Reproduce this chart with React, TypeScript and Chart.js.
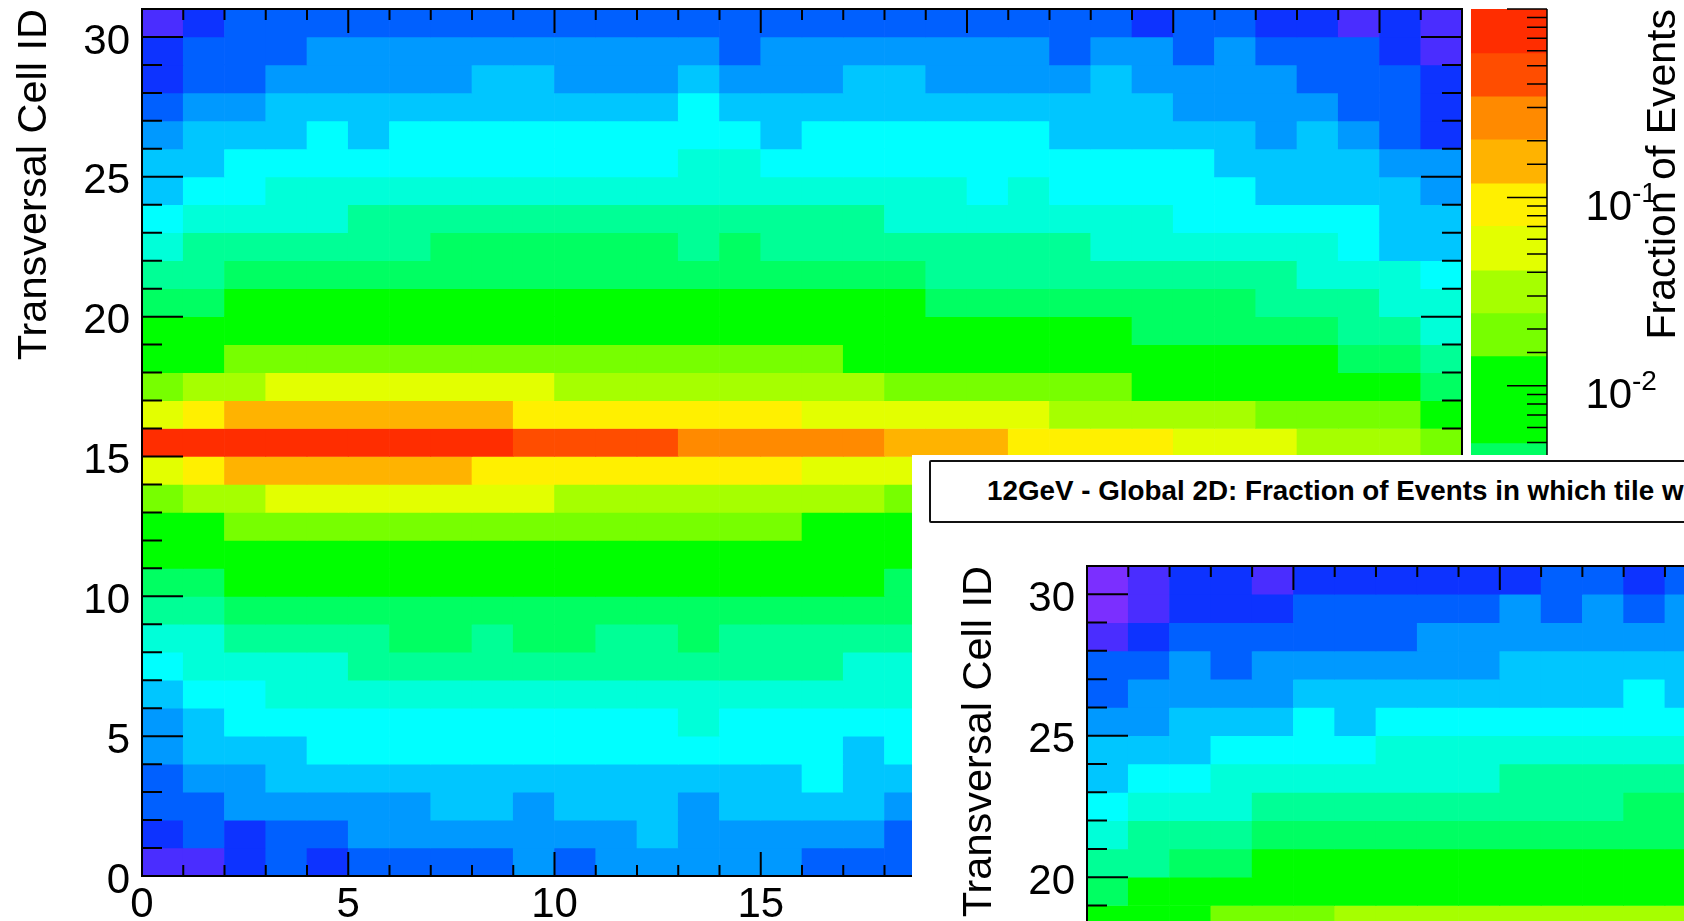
import React, { useEffect, useRef } from "react";
import { Chart, registerables } from "chart.js";

Chart.register(...registerables);

const FONT = '"Liberation Sans", Arial, sans-serif';

// Colour of each contour level, lowest (a) to highest (s)
const levelColors: Record<string, string> = {
  a: "#7b2fff", b: "#4a2dff", c: "#0d33ff", d: "#0060ff", e: "#0099ff",
  f: "#00c6ff", g: "#00ffff", h: "#00ffd9", i: "#00ff96", j: "#00ff62",
  k: "#00ff00", l: "#77ff00", m: "#a6ff00", n: "#e3ff00", o: "#fff000",
  p: "#ffb300", q: "#ff8a00", r: "#ff4d00", s: "#ff2d00",
};

// Upper histogram: contour level of every cell; first line is Cell ID 30, columns 0..31 (spaces only group by 5)
const upperRows = [
  "bcddd ddddd ddddd ddddd ddddc ddccb cb",
  "cddde eeeee eeeed eeeee eedee deddd cb",
  "cddee eeeff eeefe eeffe eeefe eeedd dc",
  "deeff fffff fffgf fffff fffff eeeed dc",
  "efffg fgggg ggggg fgggg ggfff ffefe dc",
  "ffggg ggggg ggghh ggggg ggggg gffff ee",
  "fgghh hhhhh hhhhh hhhhh ghggg ggfff fe",
  "ghhhh iiiii iiiii iiihh hhhhh ggggg ff",
  "hiiii iijjj jjjij iiiii iiihh hhhhg ff",
  "iijjj jjjjj jjjjj jjjji iiiii iiihh hg",
  "jjkkk kkkkk kkkkk kkkkj jjjjj jjiii hh",
  "kkkkk kkkkk kkkkk kkkkk kkkkj jjjji ih",
  "kklll lllll lllll llkkk kkkkk kkkkj ji",
  "lmmnn nnnnn mmmmm mmmll llllk kkkkk kj",
  "noppp ppppo ooooo onnnn nnmmm mmlll lk",
  "sssss ssssr rrrqq qqqpp poooo nnnmm ml",
  "noppp pppoo ooooo onnnn nnmmm mmlll lk",
  "lmmnn nnnnn mmmmm mmmll llllk kkkkk kj",
  "kklll lllll lllll lkkkk kkkkk kkkkj ji",
  "kkkkk kkkkk kkkkk kkkkk kkkkj jjjji ih",
  "jjkkk kkkkk kkkkk kkkjj jjjjj jjiii hh",
  "iijjj jjjjj jjjjj jjjji iiiii iiihh hg",
  "hhiii ijjij jiiji iiiii iiihh hhhhg ff",
  "ghhhh iiiii iiiii iihhh hhhhg ggggf ff",
  "fgghh hhhhh hhhhh hhhhh ghggg ggfff fe",
  "efggg ggggg ggghg ggggg ggggg gffff ee",
  "efffg ggggg ggggg ggfgg ggfff ffefe dc",
  "deeff fffff fffff fgfff fffff eeeed dc",
  "ddeee eeffe fffef fffee eeefe eeedd dc",
  "cdcdd eeeee eefee eeede eedee deddd cb",
  "bbcdc dddde deeee edddd ddddc ddccb cb",
];

// Lower histogram: only what the picture shows: Cell IDs 30..18, columns 0..14
const lowerRows = [
  "abccb ccccc cddcd",
  "abccc ddddd edede",
  "bcddd dddee eeeee",
  "ddede eeeee fffff",
  "deeee fffff fffgf",
  "eefff gfggg ggggg",
  "fffgg gghhh hhhhh",
  "fgghh hhhhh iiiii",
  "ghhhi iiiii iiijj",
  "hiiij jjjjj jjjjj",
  "iijjk kkkkk kkkkk",
  "jkkkk kkkkk kkkkk",
  "kkkll lmmmm mmmmm",
];

const columnCount = 32;
const rowCount = 31;
const topCellId = 30;
const majorEvery = 5;

// Colour bar: level edges (fraction of events) and the level between each pair of edges
const colorEdges = [1, 0.584, 0.345, 0.204, 0.119, 0.0707, 0.0411, 0.0244, 0.0144, 0.00497, 0.00293];
const colorLevels = ["s", "r", "q", "p", "o", "n", "m", "l", "k", "j"];
const colorAxisMin = 2.5e-5;
const colorAxisMax = 1;
const colorLabels = [
  { value: 0.1, exponent: "-1" },
  { value: 0.01, exponent: "-2" },
];

const yTitle = "Transversal Cell ID";
const colorTitle = "Fraction of Events";
const panelTitle = "12GeV - Global 2D: Fraction of Events in which tile w";

const frameAndTicks = {
  id: "frameAndTicks",
  afterDatasetsDraw(chart: any) {
    const { ctx, chartArea: a, scales } = chart;
    ctx.save();
    ctx.strokeStyle = "#000";
    ctx.lineWidth = 2;
    ctx.beginPath();
    for (const t of scales.x.ticks) {
      if (t.value <= 0 || t.value >= scales.x.max) continue;
      const px = scales.x.getPixelForValue(t.value);
      const len = t.value % majorEvery === 0 ? 24 : 11;
      ctx.moveTo(px, a.top);
      ctx.lineTo(px, a.top + len);
      ctx.moveTo(px, a.bottom);
      ctx.lineTo(px, a.bottom - len);
    }
    for (const t of scales.y.ticks) {
      if (t.value <= 0 || t.value >= scales.y.max) continue;
      const py = scales.y.getPixelForValue(t.value);
      const len = t.value % majorEvery === 0 ? 41 : 20;
      ctx.moveTo(a.left, py);
      ctx.lineTo(a.left + len, py);
      ctx.moveTo(a.right, py);
      ctx.lineTo(a.right - len, py);
    }
    ctx.stroke();
    ctx.strokeRect(a.left, a.top, a.right - a.left, a.bottom - a.top);
    ctx.restore();
  },
};

const colorBarDecor = {
  id: "colorBarDecor",
  afterDatasetsDraw(chart: any) {
    const { ctx, chartArea: a, scales } = chart;
    const y = scales.y;
    ctx.save();
    ctx.strokeStyle = "#000";
    ctx.lineWidth = 1.5;
    ctx.beginPath();
    ctx.moveTo(a.right, a.top);
    ctx.lineTo(a.right, a.bottom);
    for (const t of y.ticks) {
      const py = y.getPixelForValue(t.value);
      const isDecade = Math.abs(Math.log10(t.value) - Math.round(Math.log10(t.value))) < 1e-6;
      ctx.moveTo(a.right, py);
      ctx.lineTo(a.right - (isDecade ? 40 : 20), py);
    }
    ctx.stroke();
    ctx.fillStyle = "#000";
    ctx.textBaseline = "alphabetic";
    for (const l of colorLabels) {
      const py = y.getPixelForValue(l.value);
      ctx.textAlign = "left";
      ctx.font = `42px ${FONT}`;
      ctx.fillText("10", a.right + 38.5, py + 22.5);
      ctx.font = `28px ${FONT}`;
      ctx.fillText(l.exponent, a.right + 85, py + 4.5);
    }
    ctx.translate(a.right + 128, a.top);
    ctx.rotate(-Math.PI / 2);
    ctx.textAlign = "right";
    ctx.font = `41px ${FONT}`;
    ctx.fillText(colorTitle, 0, 0);
    ctx.restore();
  },
};

function heatOptions(padding: any, yWidth: number, xHeight: number, titleOffset: number) {
  return {
    responsive: false,
    animation: false as const,
    devicePixelRatio: 1,
    events: [],
    layout: { padding },
    plugins: { legend: { display: false }, tooltip: { enabled: false }, title: { display: false } },
    scales: {
      x: {
        type: "linear" as const,
        min: 0,
        max: columnCount,
        offset: false,
        grid: { display: false, drawTicks: false },
        border: { display: false },
        ticks: {
          stepSize: 1,
          autoSkip: false,
          maxRotation: 0,
          padding: 4,
          color: "#000",
          font: { family: FONT, size: 42 },
          callback: (v: any) => (Number(v) % majorEvery === 0 ? String(v) : ""),
        },
        afterFit: (s: any) => {
          s.height = xHeight;
          s.paddingLeft = 0;
          s.paddingRight = 0;
        },
      },
      y: {
        type: "linear" as const,
        min: 0,
        max: rowCount,
        grid: { display: false, drawTicks: false },
        border: { display: false },
        title: {
          display: true,
          text: yTitle,
          align: "end" as const,
          color: "#000",
          font: { family: FONT, size: 41.5, lineHeight: 1 },
          padding: { top: titleOffset, bottom: 0 },
        },
        ticks: {
          stepSize: 1,
          autoSkip: false,
          padding: 12,
          labelOffset: 5,
          color: "#000",
          font: { family: FONT, size: 42 },
          callback: (v: any) => (Number(v) % majorEvery === 0 ? String(v) : ""),
        },
        afterFit: (s: any) => {
          s.width = yWidth;
          s.paddingTop = 0;
          s.paddingBottom = 0;
        },
      },
    },
  };
}

function heatDatasets(rows: string[]) {
  return rows.map((line, i) => {
    const cells = line.replace(/ /g, "").split("");
    const cellId = topCellId - i;
    return {
      label: `Cell ID ${cellId}`,
      data: cells.map((_, c) => ({ x: c + 0.5, y: [cellId, cellId + 1] })),
      backgroundColor: cells.map((k) => levelColors[k]),
      borderWidth: 0,
      barPercentage: 1,
      categoryPercentage: 1,
      grouped: false,
    };
  });
}

export default function App() {
  const mainRef = useRef<HTMLCanvasElement>(null);
  const barRef = useRef<HTMLCanvasElement>(null);
  const lowerRef = useRef<HTMLCanvasElement>(null);

  useEffect(() => {
    const main = new Chart(mainRef.current!, {
      type: "bar",
      data: { datasets: heatDatasets(upperRows) as any },
      options: heatOptions({ left: 0, top: 9, right: 222, bottom: 0 }, 142, 45, 14) as any,
      plugins: [frameAndTicks],
    });
    const bar = new Chart(barRef.current!, {
      type: "bar",
      data: {
        labels: [colorTitle],
        datasets: colorLevels.map((k, i) => ({
          label: k,
          data: [[colorEdges[i + 1], colorEdges[i]]],
          backgroundColor: levelColors[k],
          borderWidth: 0,
          barPercentage: 1,
          categoryPercentage: 1,
          grouped: false,
        })) as any,
      },
      options: {
        responsive: false,
        animation: false,
        devicePixelRatio: 1,
        events: [],
        layout: { padding: { left: 7, right: 137, top: 9, bottom: 45 } },
        plugins: { legend: { display: false }, tooltip: { enabled: false } },
        scales: {
          x: { display: false },
          y: {
            type: "logarithmic",
            position: "right",
            min: colorAxisMin,
            max: colorAxisMax,
            grid: { display: false, drawTicks: false },
            border: { display: false },
            ticks: { display: false, autoSkip: false },
            afterFit: (s: any) => { s.width = 0; },
          },
        },
      } as any,
      plugins: [colorBarDecor],
    });
    const lower = new Chart(lowerRef.current!, {
      type: "bar",
      data: { datasets: heatDatasets(lowerRows) as any },
      options: heatOptions({ left: 0, top: 111, right: 14, bottom: 0 }, 175, 52, 47) as any,
      plugins: [frameAndTicks],
    });
    return () => {
      main.destroy();
      bar.destroy();
      lower.destroy();
    };
  }, []);

  return (
    <div style={{ position: "fixed", left: 0, top: 0, width: 1684, height: 921, overflow: "hidden", background: "#fff" }}>
      <canvas ref={mainRef} width={1684} height={921} style={{ position: "absolute", left: 0, top: 0 }} />
      <canvas ref={barRef} width={220} height={921} style={{ position: "absolute", left: 1464, top: 0 }} />
      <div style={{ position: "absolute", left: 912, top: 455, width: 772, height: 466, overflow: "hidden", background: "#fff" }}>
        <canvas ref={lowerRef} width={1510} height={1040} style={{ position: "absolute", left: 0, top: 0 }} />
        <div
          style={{
            position: "absolute", left: 17, top: 5, width: 1000, height: 63, boxSizing: "border-box",
            border: "2px solid #111", borderRadius: 2, background: "#fff",
          }}
        >
          <span
            style={{
              position: "absolute", left: 56, top: 13, whiteSpace: "nowrap",
              font: `bold 27.8px ${FONT}`, color: "#000", lineHeight: "32px",
            }}
          >
            {panelTitle}
          </span>
        </div>
      </div>
    </div>
  );
}
